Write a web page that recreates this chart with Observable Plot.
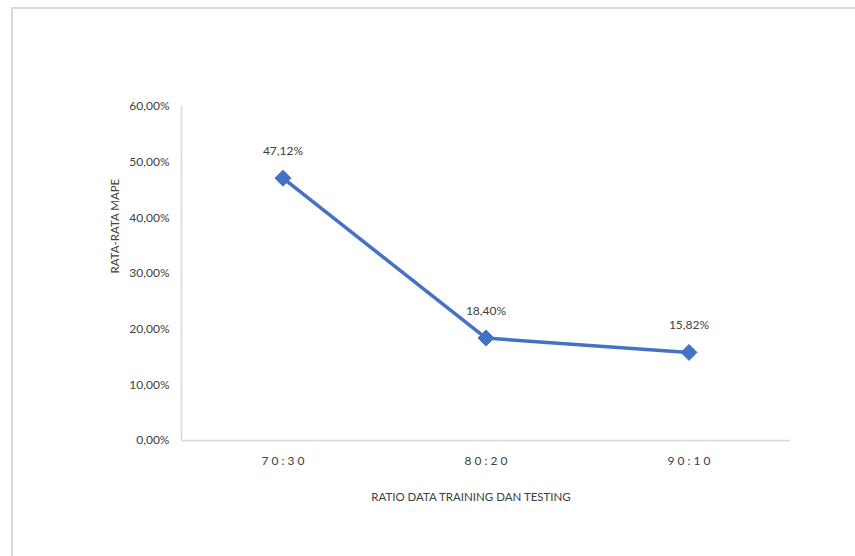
<!DOCTYPE html>
<html>
<head>
<meta charset="utf-8">
<script src="https://cdn.jsdelivr.net/npm/d3@7"></script>
<script src="https://cdn.jsdelivr.net/npm/@observablehq/plot@0.6"></script>
<style>
  html, body { margin: 0; padding: 0; background: #fff; }
  #wrap { position: relative; width: 855px; height: 556px; overflow: hidden; }
  #frame { position: absolute; left: 11px; top: 7px; width: 860px; height: 560px;
           border-top: 2px solid #d9d9d9; border-left: 2px solid #d9d9d9; box-sizing: border-box; }
  #chart { position: absolute; left: 0; top: 0; }
</style>
</head>
<body>
<div id="wrap"><div id="frame"></div><div id="chart"></div></div>
<script>
const ratios = ["70:30", "80:20", "90:10"];
const mape = [0.4712, 0.1840, 0.1582];
const yTicks = [0, 0.1, 0.2, 0.3, 0.4, 0.5, 0.6];
const xTitle = "RATIO DATA TRAINING DAN TESTING";
const yTitle = "RATA-RATA MAPE";

const data = ratios.map((r, i) => ({ratio: r, value: mape[i]}));
const pct = v => (v * 100).toFixed(2).replace(".", ",") + "%";
const font = "Lato, 'Open Sans', sans-serif";
const txt = "#404040";

const chart = Plot.plot({
  width: 855,
  height: 556,
  marginLeft: 181,
  marginRight: 65,
  marginTop: 106,
  marginBottom: 116,
  style: { fontFamily: font, fontSize: "12px", color: txt, background: "transparent" },
  x: { type: "band", domain: ratios, padding: 0 },
  y: { domain: [0, 0.6] },
  marks: [
    Plot.axisY({ ticks: yTicks, tickFormat: pct, tickSize: 0, tickPadding: 12, label: null, fontSize: 12, fill: txt }),
    Plot.axisX({ tickSize: 0, tickPadding: 16, label: null, tickFormat: d => d.split("").join(" "), fontSize: 12, fill: txt }),
    Plot.ruleY([0], { stroke: "#d9d9d9", strokeWidth: 1.5 }),
    Plot.frame({ anchor: "left", stroke: "#d9d9d9", strokeWidth: 1.5 }),
    Plot.line(data, { x: "ratio", y: "value", stroke: "#4472C4", strokeWidth: 3.5 }),
    Plot.dot(data, { x: "ratio", y: "value", symbol: "diamond2", r: 7.2, fill: "#4472C4", stroke: "#4472C4", strokeWidth: 1 }),
    Plot.text(data, { x: "ratio", y: "value", text: d => pct(d.value), dy: -27, fontSize: 12, fill: txt }),
    Plot.text([xTitle], { frameAnchor: "bottom", dy: 60, dx: -15, fontSize: 11.5, fill: txt }),
    Plot.text([yTitle], { frameAnchor: "left", dx: -66, rotate: -90, fontSize: 11.5, fill: txt })
  ]
});
document.getElementById("chart").appendChild(chart);
</script>
</body>
</html>
